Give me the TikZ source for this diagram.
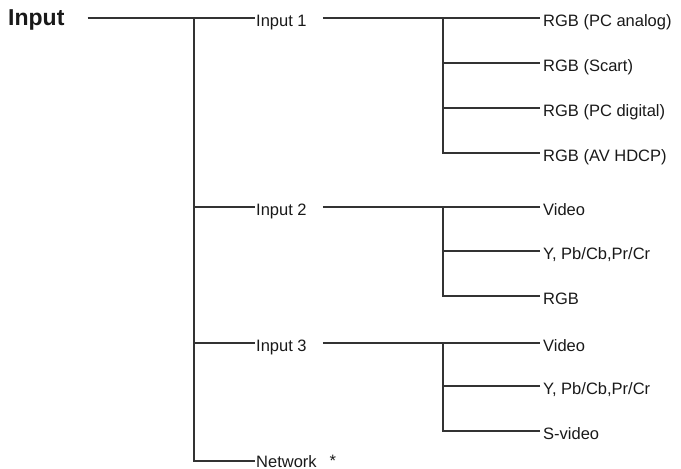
\documentclass[tikz,border=0pt]{standalone}
\usepackage{fontspec}
\setmainfont{Liberation Sans}
\usetikzlibrary{positioning}
\tikzset{
  rootlbl/.style={anchor=west, inner xsep=1pt, inner ysep=0pt, text height=15.8pt, text depth=0pt, font=\fontsize{23}{25}\selectfont\bfseries, text=black!90},
  inlbl/.style={anchor=west, inner xsep=1pt, inner ysep=0pt, text height=16.8pt, text depth=0pt, font=\fontsize{16.5}{18}\selectfont, text=black!90},
  leaflbl/.style={anchor=west, inner xsep=3pt, inner ysep=0pt, text height=16.8pt, text depth=0pt, font=\fontsize{16.5}{18}\selectfont, text=black!90},
  wire/.style={draw=black!80, line width=1.1pt}
}

\begin{document}
\begin{tikzpicture}[x=1pt, y=-1pt]
  \useasboundingbox (0,0) rectangle (681,469);

  %% Root
  \node[rootlbl] (root) at (7,18) {Input};

  %% Inputs
  \node[inlbl] (in1) at (255,18)  {Input 1};
  \node[inlbl] (in2) at (255,207) {Input 2};
  \node[inlbl] (in3) at (255,343) {Input 3};
  \node[inlbl, text height=12.6pt] (net) at (255,461) {Network\hspace{13pt}\raisebox{1pt}{*}};

  %% Input 1 leaves
  \node[leaflbl] (rgbpca) at (540,18)  {RGB (PC analog)};
  \node[leaflbl] (rgbsc)  at (540,63)  {RGB (Scart)};
  \node[leaflbl] (rgbpcd) at (540,108) {RGB (PC digital)};
  \node[leaflbl] (rgbav)  at (540,153) {RGB (AV HDCP)};

  %% Input 2 leaves
  \node[leaflbl] (vid2) at (540,207) {Video};
  \node[leaflbl] (ypb2) at (540,251) {Y, Pb/Cb,Pr/Cr};
  \node[leaflbl] (rgb2) at (540,296) {RGB};

  %% Input 3 leaves
  \node[leaflbl] (vid3) at (540,343) {Video};
  \node[leaflbl] (ypb3) at (540,386) {Y, Pb/Cb,Pr/Cr};
  \node[leaflbl] (sv3)  at (540,431) {S-video};

  %% Trunk and branch points
  \coordinate (tk) at (194,18);
  \coordinate (b1) at (443,18);
  \coordinate (b2) at (443,207);
  \coordinate (b3) at (443,343);

  %% Trunk
  \draw[wire] ([xshift=22pt]root.east) -- (in1.west);
  \draw[wire] (tk) |- (net.west);
  \draw[wire] (tk |- in2.west) -- (in2.west);
  \draw[wire] (tk |- in3.west) -- (in3.west);

  %% Input 1 branch
  \draw[wire] ([xshift=15pt]in1.east) -- (rgbpca.west);
  \draw[wire] (b1) |- (rgbav.west);
  \draw[wire] (b1 |- rgbsc.west) -- (rgbsc.west);
  \draw[wire] (b1 |- rgbpcd.west) -- (rgbpcd.west);

  %% Input 2 branch
  \draw[wire] ([xshift=15pt]in2.east) -- (vid2.west);
  \draw[wire] (b2) |- (rgb2.west);
  \draw[wire] (b2 |- ypb2.west) -- (ypb2.west);

  %% Input 3 branch
  \draw[wire] ([xshift=15pt]in3.east) -- (vid3.west);
  \draw[wire] (b3) |- (sv3.west);
  \draw[wire] (b3 |- ypb3.west) -- (ypb3.west);
\end{tikzpicture}
\end{document}
